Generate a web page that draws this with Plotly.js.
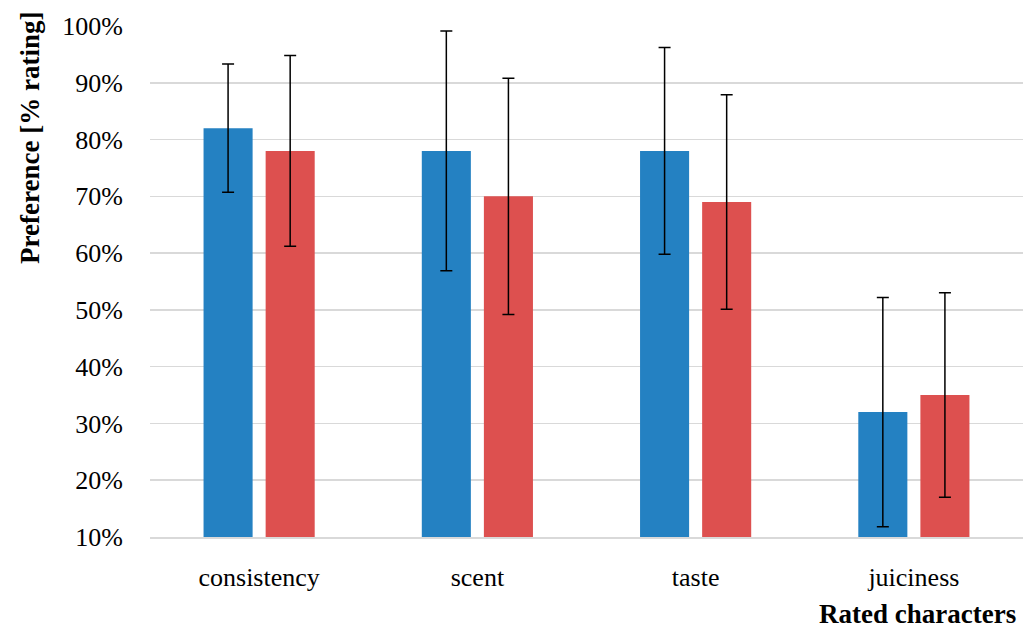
<!DOCTYPE html>
<html>
<head>
<meta charset="utf-8">
<script src="https://cdn.plot.ly/plotly-3.0.1.min.js"></script>
<style>html,body{margin:0;padding:0;background:#fff;}#chart{width:1029px;height:628px;}</style>
</head>
<body>
<div id="chart"></div>
<script>
const categories = ["consistency", "scent", "taste", "juiciness"];
const seriesA = [82, 78, 78, 32];
const errorsA = [11.3, 21.1, 18.2, 20.2];
const seriesB = [78, 70, 69, 35];
const errorsB = [16.8, 20.8, 18.9, 18.0];
const yTickVals = [10, 20, 30, 40, 50, 60, 70, 80, 90, 100];
const yTickText = ["10%", "20%", "30%", "40%", "50%", "60%", "70%", "80%", "90%", "100%"];

const fontFamily = "'Liberation Serif', 'DejaVu Serif', serif";
const errStyle = (arr) => ({type: "data", array: arr, visible: true, color: "#000", thickness: 1.5, width: 6});

const traces = [
  {type: "bar", x: categories, y: seriesA, marker: {color: "#2481C2"}, error_y: errStyle(errorsA), name: "A"},
  {type: "bar", x: categories, y: seriesB, marker: {color: "#DD504F"}, error_y: errStyle(errorsB), name: "B"}
];

const layout = {
  width: 1029, height: 628,
  margin: {l: 150, r: 6, t: 26, b: 91},
  paper_bgcolor: "#fff", plot_bgcolor: "#fff",
  showlegend: false,
  barmode: "group",
  bargap: 0.431,
  bargroupgap: 0.21,
  font: {family: fontFamily, size: 26, color: "#000"},
  xaxis: {
    type: "category", range: [-0.5, 3.5],
    showgrid: false, showline: true, linecolor: "#d9d9d9", linewidth: 2,
    ticks: "", ticklabelstandoff: 16,
    tickfont: {family: fontFamily, size: 26, color: "#000"}
  },
  yaxis: {
    range: [10, 100], tickvals: yTickVals, ticktext: yTickText,
    showgrid: true, gridcolor: "#d9d9d9", gridwidth: 1.5,
    zeroline: false, showline: false, ticks: "", ticklabelstandoff: 26,
    tickfont: {family: fontFamily, size: 26, color: "#000"}
  },
  annotations: [
    {text: "<b>Preference [% rating]</b>", xref: "paper", yref: "paper", x: 0, y: 0.781,
     xanchor: "center", yanchor: "middle", xshift: -120, textangle: -90, showarrow: false,
     font: {family: fontFamily, size: 27, color: "#000"}},
    {text: "<b>Rated characters</b>", xref: "paper", yref: "paper", x: 0.994, y: -0.151,
     xanchor: "right", yanchor: "middle", showarrow: false,
     font: {family: fontFamily, size: 27, color: "#000"}}
  ]
};

Plotly.newPlot("chart", traces, layout, {displayModeBar: false, staticPlot: true});
</script>
</body>
</html>
